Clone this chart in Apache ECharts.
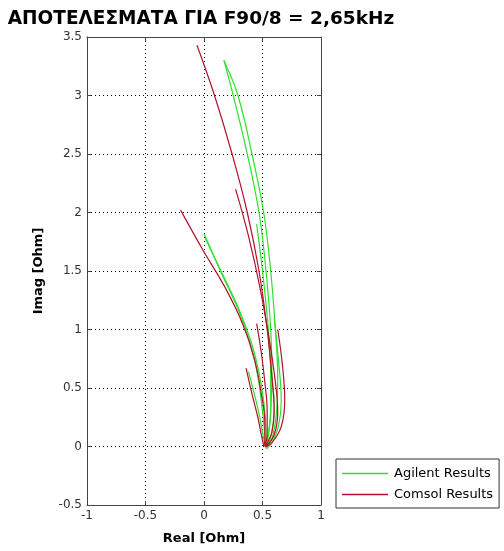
<!DOCTYPE html>
<html>
<head>
<meta charset="utf-8">
<script src="https://cdn.jsdelivr.net/npm/echarts@6/dist/echarts.min.js"></script>
<style>html,body{margin:0;padding:0;background:#fff;}#c{width:504px;height:551px;}</style>
</head>
<body>
<div id="c"></div>
<script>
var titleText = 'ΑΠΟΤΕΛΕΣΜΑΤΑ ΓΙΑ F90/8 = 2,65kHz';
var xName = 'Real [Ohm]';
var yName = 'Imag [Ohm]';
var xTicks = [-1, -0.5, 0, 0.5, 1];
var yTicks = [-0.5, 0, 0.5, 1, 1.5, 2, 2.5, 3, 3.5];
var seriesNames = ['Agilent Results', 'Comsol Results'];

var agilent1 = [[0.17,3.30],[0.25,3.0],[0.37,2.5],[0.47,2.0],[0.53,1.5],[0.57,1.0],[0.58,0.6],[0.57,0.3],[0.55,0.1],[0.53,-0.02]];
var agilent2 = [[0.17,3.30],[0.29,3.0],[0.41,2.5],[0.51,2.0],[0.57,1.5],[0.61,1.0],[0.63,0.6],[0.62,0.3],[0.59,0.1],[0.54,-0.02]];
var agilent3 = [[0.45,1.90],[0.50,1.5],[0.55,1.0],[0.57,0.6],[0.57,0.3],[0.55,0.1],[0.53,0]];
var agilent4 = [[0,1.82],[0.14,1.5],[0.28,1.2],[0.39,0.9],[0.46,0.6],[0.5,0.3],[0.52,0.1],[0.53,-0.01]];
var agilent5 = [[0.01,1.78],[0.16,1.47],[0.30,1.17],[0.41,0.87],[0.48,0.58],[0.52,0.3],[0.53,0.1],[0.54,-0.01]];
var agilent6 = [[0.38,0.64],[0.43,0.45],[0.47,0.28],[0.5,0.12],[0.52,0.02]];
var agilent7 = [[0.55,0.93],[0.58,0.6],[0.6,0.35],[0.58,0.12],[0.54,0.0]];
var agilent8 = [[0.6,1.1],[0.64,0.7],[0.66,0.4],[0.63,0.15],[0.56,0.0]];

var comsol1 = [[-0.06,3.43],[0.09,3.0],[0.24,2.5],[0.37,2.0],[0.47,1.5],[0.54,1.0],[0.58,0.6],[0.6,0.3],[0.58,0.12],[0.54,0.03],[0.52,0]];
var comsol2 = [[-0.2,2.02],[-0.01,1.68],[0.18,1.36],[0.33,1.05],[0.43,0.75],[0.49,0.45],[0.52,0.2],[0.52,0.05],[0.51,0]];
var comsol3 = [[0.27,2.2],[0.38,1.8],[0.48,1.35],[0.56,0.9],[0.61,0.55],[0.63,0.3],[0.6,0.1],[0.53,0]];
var comsol4 = [[0.45,1.05],[0.49,0.8],[0.52,0.55],[0.54,0.3],[0.54,0.1],[0.52,0]];
var comsol5 = [[0.36,0.67],[0.41,0.45],[0.46,0.25],[0.49,0.1],[0.51,0.01]];
var comsol6 = [[0.63,1.0],[0.67,0.7],[0.69,0.4],[0.66,0.17],[0.58,0.03],[0.53,0]];

var agilentCurves = [agilent1, agilent2, agilent3, agilent4, agilent5, agilent6, agilent7, agilent8];
var comsolCurves = [comsol1, comsol2, comsol3, comsol4, comsol5, comsol6];

var GREEN = '#2ee02e';
var RED = '#b3102c';

function mk(name, data, color) {
  return {
    type: 'line', name: name, data: data, smooth: 0.4, symbol: 'none',
    lineStyle: { color: color, width: 1.2 }, itemStyle: { color: color },
    xAxisIndex: 0, yAxisIndex: 0, animation: false
  };
}
var series = [];
agilentCurves.forEach(function (d) { series.push(mk(seriesNames[0], d, GREEN)); });
comsolCurves.forEach(function (d) { series.push(mk(seriesNames[1], d, RED)); });

var font = '"DejaVu Sans", sans-serif';
var axisBase = {
  type: 'value',
  axisLine: { show: true, onZero: false, lineStyle: { color: '#444', width: 1 } },
  axisTick: { show: true, inside: true, length: 4, lineStyle: { color: '#444' } },
  splitLine: { show: false }
};

var chart = echarts.init(document.getElementById('c'), null, { renderer: 'canvas' });
chart.setOption({
  animation: false,
  backgroundColor: '#fff',
  title: {
    text: titleText, left: 196, top: 5, textAlign: 'center',
    textStyle: { fontFamily: font, fontSize: 18.5, fontWeight: 'bold', color: '#000' }
  },
  legend: {
    orient: 'vertical', left: 336, top: 459,
    data: seriesNames,
    icon: 'rect', itemWidth: 46, itemHeight: 1.6, itemGap: 8,
    padding: [8, 6, 7, 6],
    borderColor: '#333', borderWidth: 1, backgroundColor: '#fff',
    textStyle: { fontFamily: font, fontSize: 13, color: '#000', padding: [0, 0, 0, 1] }
  },
  grid: { left: 87, right: 183, top: 37, bottom: 46, containLabel: false },
  xAxis: [
    Object.assign({}, axisBase, {
      min: xTicks[0], max: xTicks[xTicks.length - 1], interval: 0.5, position: 'bottom',
      name: xName, nameLocation: 'middle', nameGap: 27,
      nameTextStyle: { fontFamily: font, fontSize: 13, fontWeight: 'bold', color: '#000' },
      axisLabel: { fontFamily: font, fontSize: 12, color: '#333', margin: 5 },
      splitLine: { show: true, lineStyle: { color: '#000', type: [1, 3], width: 1 } }
    }),
    Object.assign({}, axisBase, {
      min: xTicks[0], max: xTicks[xTicks.length - 1], interval: 0.5, position: 'top',
      axisLabel: { show: false }
    })
  ],
  yAxis: [
    Object.assign({}, axisBase, {
      min: yTicks[0], max: yTicks[yTicks.length - 1], interval: 0.5, position: 'left',
      name: yName, nameLocation: 'middle', nameGap: 42, nameRotate: 90,
      nameTextStyle: { fontFamily: font, fontSize: 13, fontWeight: 'bold', color: '#000' },
      axisLabel: { fontFamily: font, fontSize: 12, color: '#333', margin: 5 },
      splitLine: { show: true, lineStyle: { color: '#000', type: [1, 3], width: 1 } }
    }),
    Object.assign({}, axisBase, {
      min: yTicks[0], max: yTicks[yTicks.length - 1], interval: 0.5, position: 'right',
      axisLabel: { show: false }
    })
  ],
  series: series
});
</script>
</body>
</html>
